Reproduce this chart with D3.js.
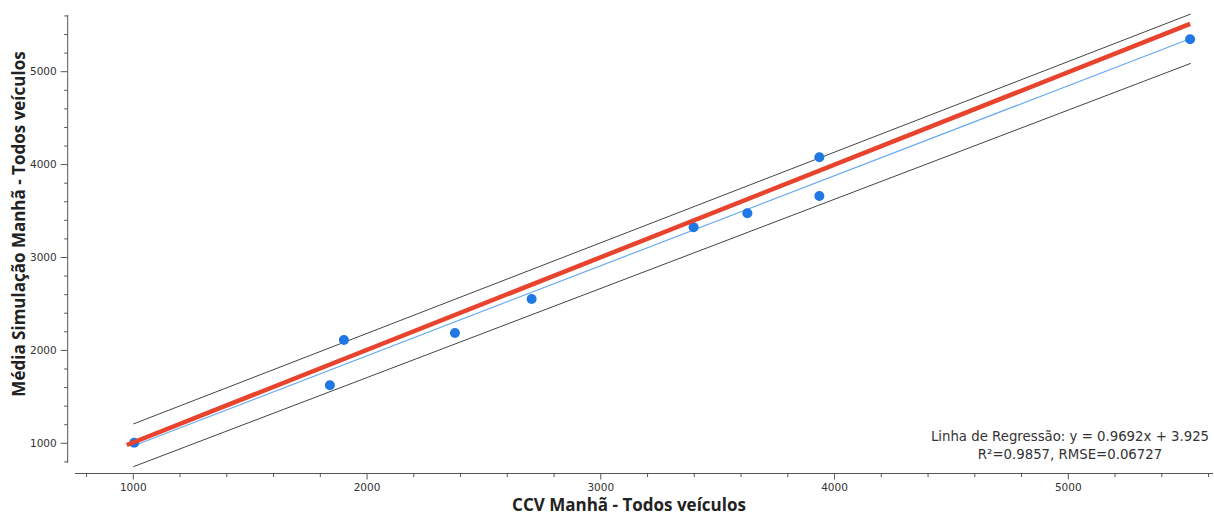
<!DOCTYPE html>
<html lang="pt">
<head>
<meta charset="utf-8">
<style>
  body { margin: 0; background: #fff; }
  svg { display: block; }
  .tick text { font-family: "DejaVu Sans", sans-serif; font-size: 10.5px; fill: #333; }
  .axis path, .axis line { stroke: #555; }
  .title { font-family: "Open Sans", sans-serif; font-weight: bold; font-size: 17px; fill: #222; }
  .legend { font-family: "DejaVu Sans", sans-serif; font-size: 13.3px; fill: #333; }
</style>
</head>
<body>
<svg width="1214" height="515"></svg>
<script src="https://d3js.org/d3.v7.min.js"></script>
<script>
var ccv = [1004, 1841, 1901, 2376, 2704, 3397, 3627, 3935, 3935, 5521];
var sim = [1006, 1624, 2112, 2187, 2553, 3325, 3476, 4079, 3662, 5349];

// lines drawn on the chart (endpoints as read)
var refLine = [[972, 982], [5521, 5515]];
var upperLine = [[1000, 1208], [5524, 5621]];
var lowerLine = [[1000, 748], [5524, 5090]];
var slope = 0.9692, intercept = 3.925;

var xTicks = [1000, 2000, 3000, 4000, 5000];
var yTicks = [1000, 2000, 3000, 4000, 5000];

var svg = d3.select("svg");

var x = d3.scaleLinear().domain([1000, 5000]).range([133.3, 1068.3]);
var y = d3.scaleLinear().domain([1000, 5000]).range([443.3, 71.7]);

var xMin = x.invert(75), xMax = x.invert(1213);
var yMin = y.invert(463), yMax = y.invert(15);

// x axis
var gx = svg.append("g").attr("class", "axis").attr("transform", "translate(0,473.5)");
gx.append("line").attr("x1", x(xMin)).attr("x2", x(xMax)).attr("stroke", "#555");
gx.selectAll(".minor").data(d3.range(800, xMax, 200)).enter().append("line")
  .attr("x1", d => x(d)).attr("x2", d => x(d))
  .attr("y1", 0).attr("y2", d => d % 1000 === 0 ? 6 : 3.5)
  .attr("stroke", "#555");
gx.selectAll(".tick").data(xTicks).enter().append("g").attr("class", "tick")
  .append("text").attr("x", d => x(d)).attr("y", 17).attr("text-anchor", "middle")
  .text(d => d);

// y axis
var gy = svg.append("g").attr("class", "axis").attr("transform", "translate(67.7,0)");
gy.append("line").attr("y1", y(yMin)).attr("y2", y(yMax)).attr("stroke", "#555");
gy.selectAll(".minor").data(d3.range(800, yMax + 1, 200)).enter().append("line")
  .attr("y1", d => y(d)).attr("y2", d => y(d))
  .attr("x1", d => d % 1000 === 0 ? -7 : -3.5).attr("x2", 0)
  .attr("stroke", "#555");
gy.selectAll(".tick").data(yTicks).enter().append("g").attr("class", "tick")
  .append("text").attr("x", -11).attr("y", d => y(d)).attr("dy", "0.35em")
  .attr("text-anchor", "end").text(d => d);

var line = d3.line().x(d => x(d[0])).y(d => y(d[1]));

// bound lines
[upperLine, lowerLine].forEach(function (l) {
  svg.append("path").attr("d", line(l)).attr("fill", "none")
    .attr("stroke", "#444").attr("stroke-width", 1);
});

// regression line over the data range
var fit = d3.extent(ccv).map(v => [v, slope * v + intercept]);
svg.append("path").attr("d", line(fit)).attr("fill", "none")
  .attr("stroke", "#6aaaf0").attr("stroke-width", 1.2);

// points
svg.selectAll("circle").data(ccv).enter().append("circle")
  .attr("cx", d => x(d)).attr("cy", (d, i) => y(sim[i])).attr("r", 5)
  .attr("fill", "#1f78e4");

// 1:1 line
svg.append("path").attr("d", line(refLine)).attr("fill", "none")
  .attr("stroke", "#e8432d").attr("stroke-width", 4.5).attr("stroke-linecap", "butt");

// titles
svg.append("text").attr("class", "title").attr("x", 629).attr("y", 511)
  .attr("text-anchor", "middle").text("CCV Manhã - Todos veículos");
svg.append("text").attr("class", "title")
  .attr("transform", "translate(25,224) rotate(-90)")
  .attr("text-anchor", "middle").text("Média Simulação Manhã - Todos veículos");

// regression info
var leg = svg.append("text").attr("class", "legend").attr("text-anchor", "middle");
leg.append("tspan").attr("x", 1070).attr("y", 441)
  .text("Linha de Regressão: y = " + slope + "x + " + intercept);
leg.append("tspan").attr("x", 1070).attr("y", 459).text("R²=0.9857, RMSE=0.06727");
</script>
</body>
</html>
